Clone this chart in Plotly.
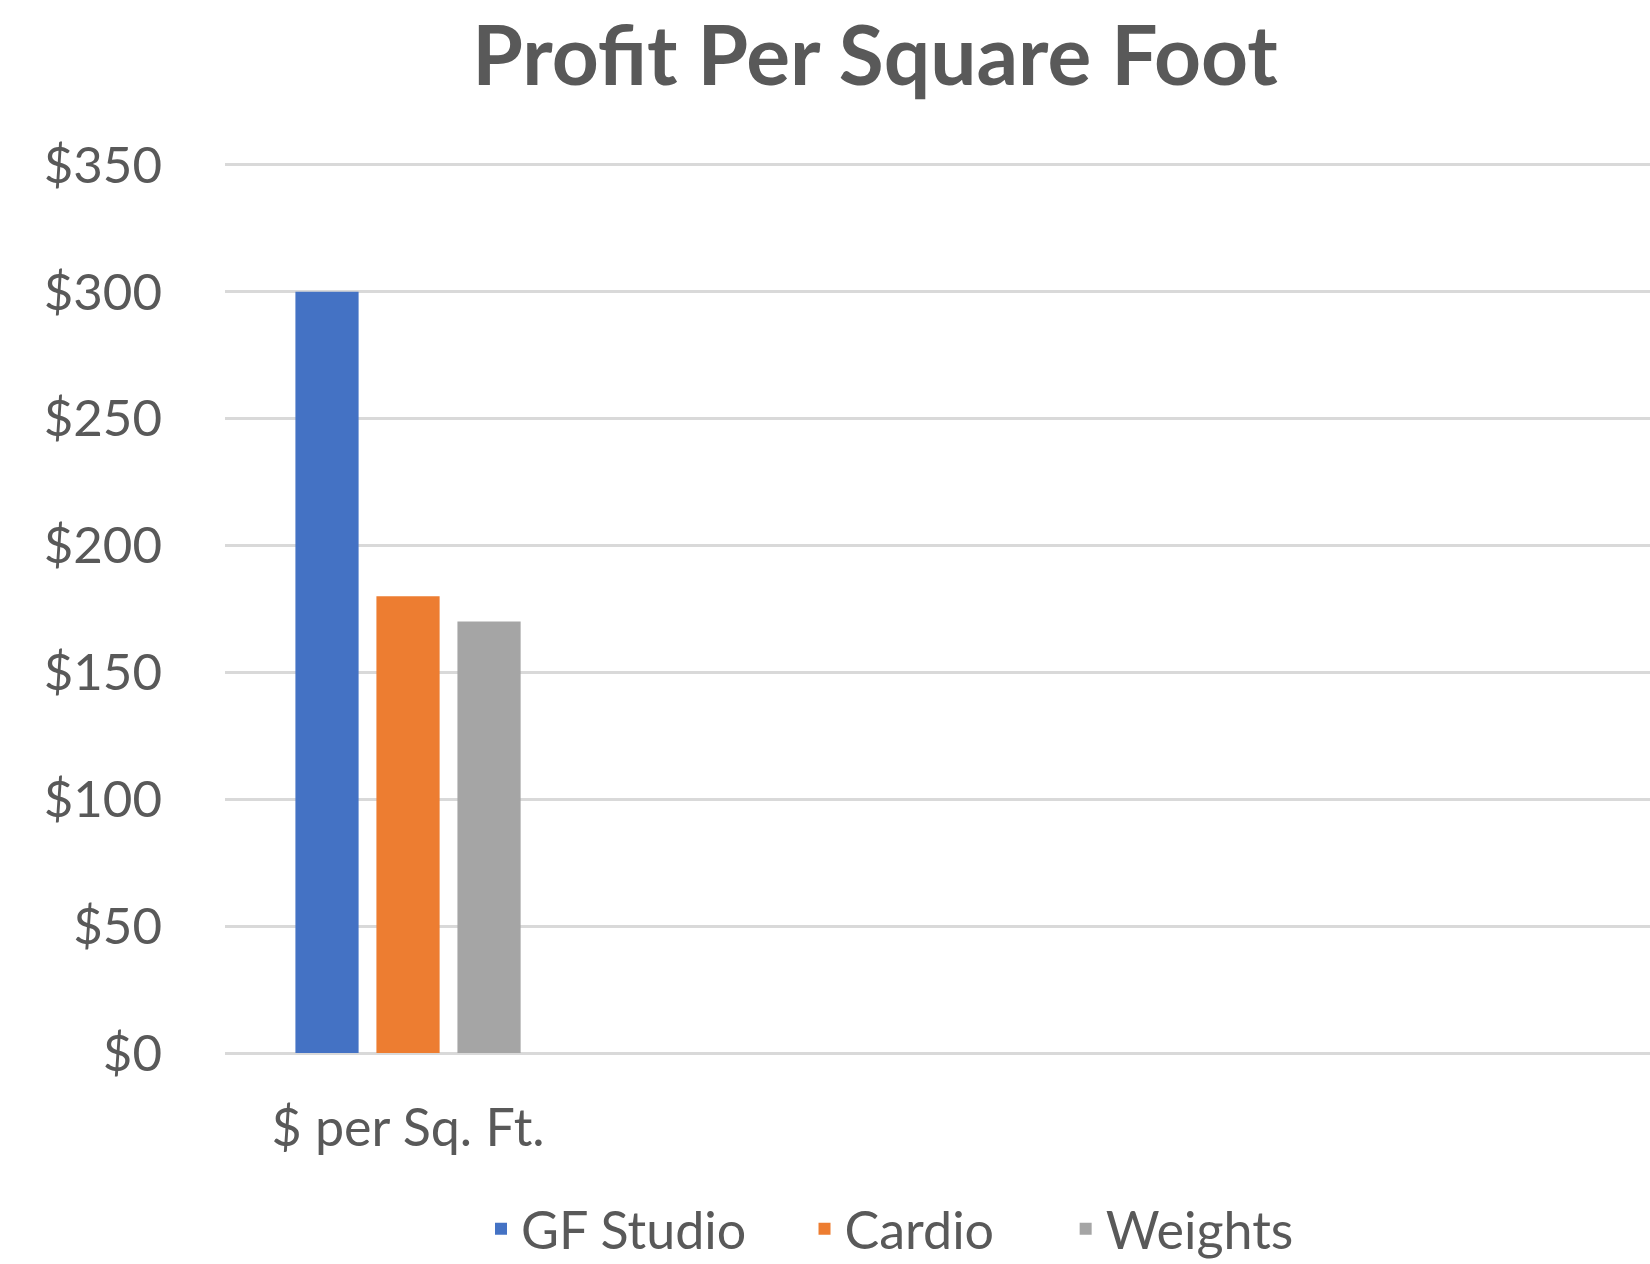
import plotly.graph_objects as go

# ---- data ----
categories = ["$ per Sq. Ft."]
series_names = ["GF Studio", "Cardio", "Weights"]
gf_studio = [300]
cardio = [180]
weights = [170]
y_tick_values = [0, 50, 100, 150, 200, 250, 300, 350]
y_tick_labels = ["$0", "$50", "$100", "$150", "$200", "$250", "$300", "$350"]
title_text = "Profit Per Square Foot"

# ---- styles ----
colors = ["#4472C4", "#ED7D31", "#A5A5A5"]
text_color = "#595959"
grid_color = "#D9D9D9"
font_family = "Lato, 'Open Sans', sans-serif"
legend_pad = ["\u00a0" * 4, "\u00a0" * 5, ""]

fig = go.Figure()
for name, vals, col, pad in zip(series_names, [gf_studio, cardio, weights], colors, legend_pad):
    fig.add_trace(go.Bar(
        x=categories, y=vals, name=name + pad,
        marker=dict(color=col, line=dict(width=0)),
    ))

fig.update_layout(
    width=1650, height=1264,
    paper_bgcolor="white", plot_bgcolor="white",
    margin=dict(l=225, r=0, t=161, b=211),
    barmode="group", bargap=0.336, bargroupgap=0.22,
    font=dict(family=font_family, color=text_color, size=52),
    title=dict(
        text="<b>" + title_text + "</b>",
        font=dict(family=font_family, size=82, color=text_color),
        x=875 / 1650, xref="container", xanchor="center",
        y=1 - 28 / 1264, yref="container", yanchor="top",
    ),
    showlegend=True,
    legend=dict(
        orientation="h",
        xref="container", yref="container",
        x=890 / 1650, xanchor="center",
        y=1 - 1229 / 1264, yanchor="middle",
        font=dict(size=52, color=text_color, family=font_family),
        bgcolor="rgba(0,0,0,0)",
    ),
)

fig.update_xaxes(
    type="category",
    range=[-0.5, 3.393],
    showgrid=False, showline=False, zeroline=False,
    ticks="", ticklabelstandoff=40,
    tickfont=dict(size=52, color=text_color, family=font_family),
)
fig.update_yaxes(
    range=[0, 351.5],
    tickmode="array", tickvals=y_tick_values, ticktext=y_tick_labels,
    showgrid=True, gridcolor=grid_color, gridwidth=2.5,
    zeroline=True, zerolinecolor=grid_color, zerolinewidth=2.5,
    showline=False, ticks="", ticklabelstandoff=62,
    tickfont=dict(size=51, color=text_color, family=font_family),
)

fig.write_html(
    "out.html",
    config={"displayModeBar": False},
    post_script="document.body.style.margin='0';",
)
